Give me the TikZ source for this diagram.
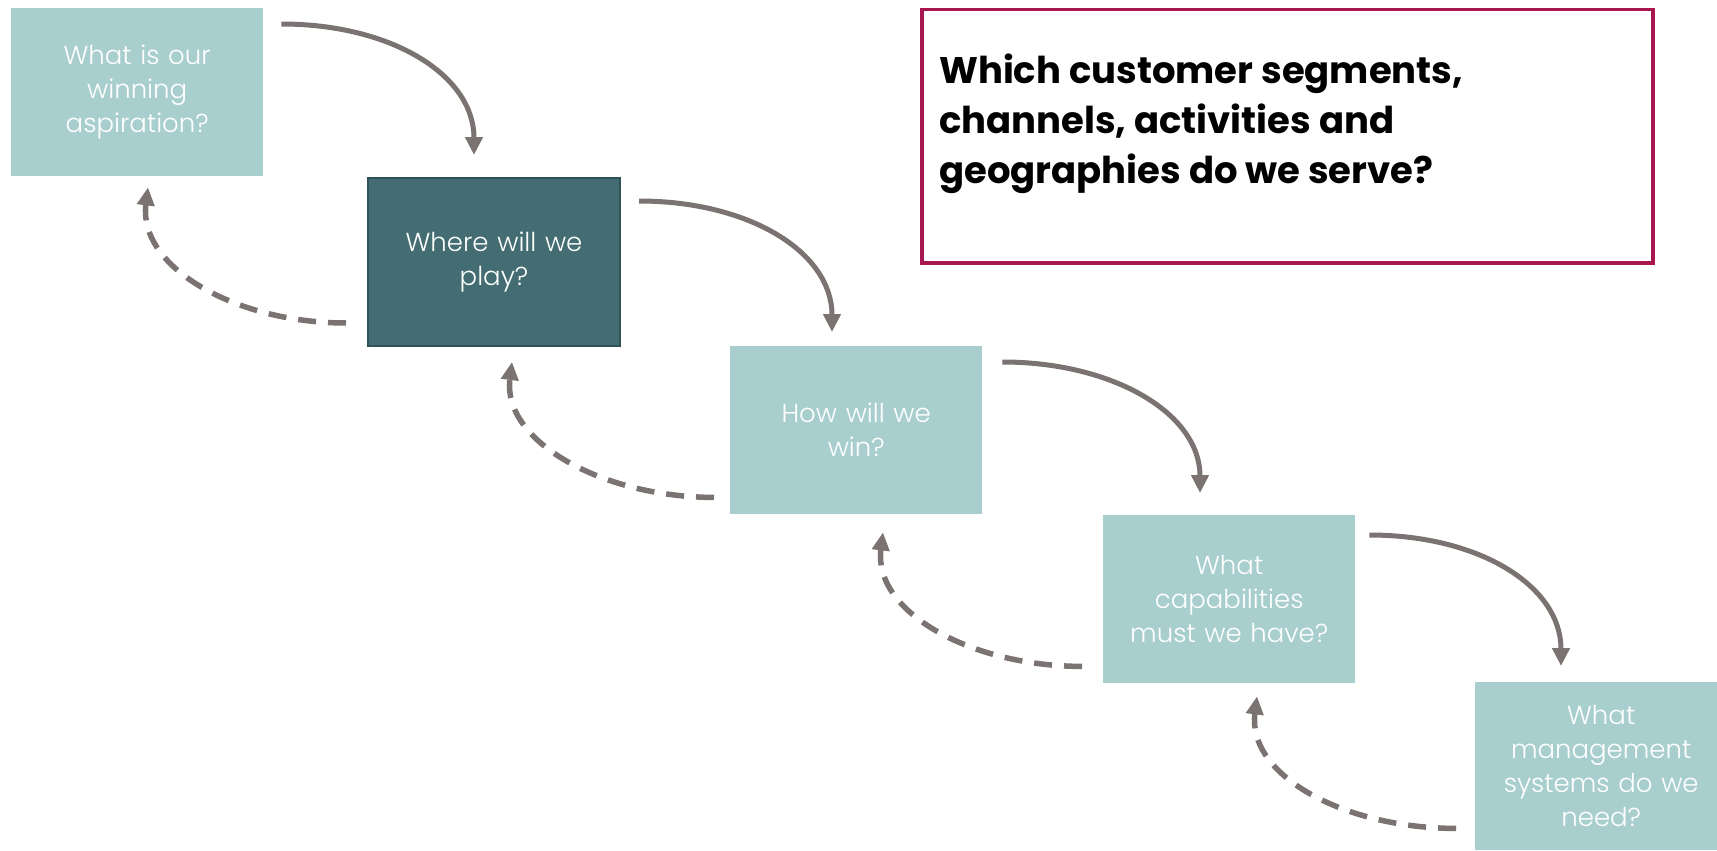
\documentclass[tikz,border=0pt]{standalone}
\usepackage{fontspec}
\setmainfont{Poppins}[UprightFont=* Light, BoldFont=* Bold]
\usetikzlibrary{arrows.meta,calc}
\definecolor{lightteal}{HTML}{A9CECE}
\definecolor{darkteal}{HTML}{436D72}
\definecolor{darkborder}{HTML}{2F5257}
\definecolor{arrowgray}{HTML}{7A7371}
\definecolor{wine}{HTML}{A8174F}
\begin{document}
\begin{tikzpicture}[x=1pt,y=-1pt,
  box/.style={fill=lightteal, minimum width=252pt, minimum height=168pt, anchor=north west,
    inner sep=0pt, text=white, align=center, text width=240pt,
    font=\fontsize{26}{34}\selectfont},
  darkbox/.style={box, fill=darkteal, draw=darkborder, line width=2pt},
  fwd/.style={draw=arrowgray, line width=5pt, -{Triangle[width=17pt,length=18pt]}},
  back/.style={draw=arrowgray, line width=5.5pt, dash pattern=on 18pt off 12pt, -{Triangle[width=17pt,length=18pt]}},
  qbox/.style={draw=wine, line width=3.5pt, fill=white, minimum width=731pt, minimum height=253pt,
    anchor=north west, inner sep=0pt}
]
\useasboundingbox (0,0) rectangle (1717,851);
\fill[white] (0,0) rectangle (1717,851);

\node[box] (b1) at (11,8) {What is our\\winning\\aspiration?};
\node[darkbox] (b2) at (367,177) {Where will we\\play?};
\node[box] (b3) at (730,346) {How will we\\win?};
\node[box] (b4) at (1103,515) {What\\capabilities\\must we have?};
\node[box] (b5) at (1475,682) {What\\management\\systems do we\\need?};

\node[qbox] (q) at (920,8) {};
\node[anchor=west, align=left, font=\bfseries\fontsize{37}{50}\selectfont, text=black, inner sep=0pt]
  (qt) at ($(q.west)+(19,-12)$) {Which customer segments,\\channels, activities and\\geographies do we serve?};

% forward arrows
\coordinate (s1) at ($(b1.north east)+(18,16)$);
\coordinate (e1) at ($(b2.north west)+(107,-22)$);
\coordinate (s2) at ($(b2.north east)+(18,24)$);
\coordinate (e2) at ($(b3.north west)+(102,-14)$);
\coordinate (s3) at ($(b3.north east)+(20,16)$);
\coordinate (e3) at ($(b4.north west)+(97,-22)$);
\coordinate (s4) at ($(b4.north east)+(14,20)$);
\coordinate (e4) at ($(b5.north west)+(86,-16)$);
\draw[fwd] (s1) .. controls +(110,0) and +(0,-80) .. (e1);
\draw[fwd] (s2) .. controls +(110,0) and +(0,-80) .. (e2);
\draw[fwd] (s3) .. controls +(110,0) and +(0,-80) .. (e3);
\draw[fwd] (s4) .. controls +(110,0) and +(0,-80) .. (e4);

% backward arrows
\coordinate (t1) at ($(b2.south west)+(-21,-24)$);
\coordinate (f1) at ($(b1.south west)+(137,11)$);
\coordinate (t2) at ($(b3.south west)+(-16,-17)$);
\coordinate (f2) at ($(b2.south west)+(145,15)$);
\coordinate (t3) at ($(b4.south west)+(-21,-17)$);
\coordinate (f3) at ($(b3.south west)+(153,18)$);
\coordinate (t4) at ($(b5.south west)+(-19,-22)$);
\coordinate (f4) at ($(b4.south west)+(154,13)$);
\draw[back] (t1) .. controls +(-110,0) and +(-10,80) .. (f1);
\draw[back] (t2) .. controls +(-110,0) and +(-10,80) .. (f2);
\draw[back] (t3) .. controls +(-110,0) and +(-10,80) .. (f3);
\draw[back] (t4) .. controls +(-110,0) and +(-10,80) .. (f4);
\end{tikzpicture}
\end{document}
